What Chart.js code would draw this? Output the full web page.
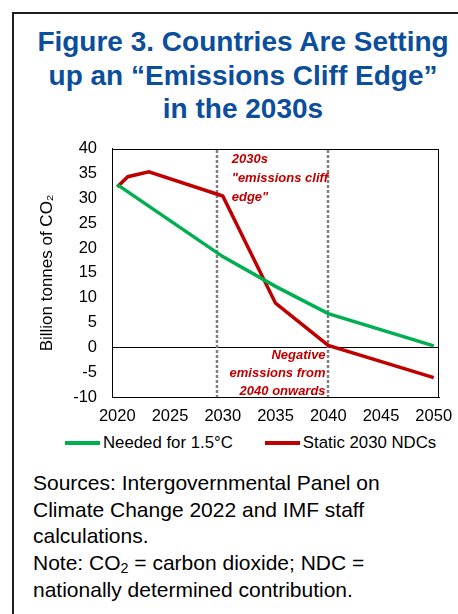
<!DOCTYPE html>
<html>
<head>
<meta charset="utf-8">
<script src="https://cdn.jsdelivr.net/npm/chart.js@4.4.1/dist/chart.umd.min.js"></script>
<style>
  html, body { margin: 0; padding: 0; background: #fff; }
  body { width: 458px; height: 614px; position: relative; overflow: hidden; font-family: "Liberation Sans", Arial, sans-serif; }
  #frame { position: absolute; left: 12px; top: 12px; width: 460px; height: 620px; border-top: 2px solid #1e1e1e; border-left: 2px solid #1e1e1e; }
  #title { position: absolute; left: 14px; top: 25px; width: 458px; text-align: center; color: #0b4e9c; font-weight: bold; font-size: 28px; line-height: 33.5px; }
  #chartBox { position: absolute; left: 14px; top: 124px; width: 444px; height: 306px; }
  #legend { position: absolute; left: 65px; top: 433px; width: 400px; display: flex; white-space: nowrap; font-size: 16.8px; line-height: 20px; color: #000; }
  #legend .item { display: flex; align-items: center; flex: none; margin-right: 32px; }
  #legend .swatch { width: 35px; height: 3.5px; margin-right: 3px; }
  #notes { position: absolute; left: 33px; top: 470px; width: 420px; font-size: 21px; line-height: 26.7px; color: #000; }
  #notes sub { font-size: 0.68em; line-height: 0; vertical-align: -0.2em; }
</style>
</head>
<body>
<div id="frame"></div>
<div id="title">Figure 3. Countries Are Setting<br>up an “Emissions Cliff Edge”<br>in the 2030s</div>
<div id="chartBox"><canvas id="emisCanvas"></canvas></div>
<div id="legend"></div>
<div id="notes">Sources: Intergovernmental Panel on<br>Climate Change 2022 and IMF staff<br>calculations.<br>Note: CO<sub>2</sub> = carbon dioxide; NDC =<br>nationally determined contribution.</div>

<script>
// datos (miles de millones de t de CO2)
const yearsNeeded = [2020, 2030, 2035, 2040, 2050];
const valsNeeded  = [32.8, 18.3, 12.3, 6.8, 0.3];

const yearsStatic = [2020, 2021, 2023, 2030, 2035, 2040, 2050];
const valsStatic  = [32.3, 34.4, 35.4, 30.5, 8.9, 0.4, -6.1];

const tickYears = [2020, 2025, 2030, 2035, 2040, 2045, 2050];
const markerYears = [2029.5, 2040];

const seriesNames = ['Needed for 1.5°C', 'Static 2030 NDCs'];
const seriesColors = ['#00b050', '#c00000'];

const noteCliff = ['2030s', '"emissions cliff', 'edge"'];
const noteNeg = ['Negative', 'emissions from', '2040 onwards'];

const FONT = '"Liberation Sans", Arial, sans-serif';

function toPoints(xs, ys) {
    return xs.map((x, i) => ({ x, y: ys[i] }));
}

// marco del área, líneas punteadas y textos rojos
const extrasPlugin = {
    id: 'extras',
    beforeDatasetsDraw(chart) {
        const { ctx, chartArea: a, scales: { x } } = chart;
        ctx.save();
        ctx.strokeStyle = '#7f7f7f';
        ctx.lineWidth = 2.5;
        ctx.setLineDash([3, 2]);
        markerYears.forEach(yr => {
            const px = Math.round(x.getPixelForValue(yr));
            ctx.beginPath();
            ctx.moveTo(px, a.top + 1);
            ctx.lineTo(px, a.bottom);
            ctx.stroke();
        });
        ctx.restore();
    },
    afterDatasetsDraw(chart) {
        const { ctx, chartArea: a, scales: { x, y } } = chart;
        ctx.save();
        ctx.strokeStyle = '#000';
        ctx.lineWidth = 1;
        ctx.strokeRect(Math.round(a.left) + 0.5, Math.round(a.top) + 0.5,
            Math.round(a.right - a.left) - 1, Math.round(a.bottom - a.top));

        ctx.fillStyle = seriesColors[1];
        ctx.font = 'italic bold 13px ' + FONT;
        ctx.textBaseline = 'middle';

        ctx.textAlign = 'left';
        let px = x.getPixelForValue(2030.85);
        let py = y.getPixelForValue(37.9);
        noteCliff.forEach((t, i) => ctx.fillText(t, px, py + i * 19));

        ctx.textAlign = 'right';
        px = x.getPixelForValue(2039.75);
        py = y.getPixelForValue(-1.6);
        noteNeg.forEach((t, i) => ctx.fillText(t, px, py + i * 18));
        ctx.restore();
    }
};

// leyenda en HTML (más control sobre el espaciado)
const legendEl = document.getElementById('legend');
seriesNames.forEach((name, i) => {
    const item = document.createElement('div');
    item.className = 'item';
    item.innerHTML = `<span class="swatch" style="background:${seriesColors[i]}"></span><span>${name}</span>`;
    legendEl.appendChild(item);
});

const canvas = document.getElementById('emisCanvas');

new Chart(canvas.getContext('2d'), {
    type: 'line',
    data: {
        datasets: [
            {
                label: seriesNames[0],
                data: toPoints(yearsNeeded, valsNeeded),
                borderColor: seriesColors[0],
                backgroundColor: seriesColors[0],
                borderWidth: 3.5,
                pointRadius: 0,
                tension: 0
            },
            {
                label: seriesNames[1],
                data: toPoints(yearsStatic, valsStatic),
                borderColor: seriesColors[1],
                backgroundColor: seriesColors[1],
                borderWidth: 3.5,
                pointRadius: 0,
                tension: 0
            }
        ]
    },
    options: {
        responsive: true,
        maintainAspectRatio: false,
        animation: false,
        layout: { padding: { top: 0, right: 19, left: 0, bottom: 3 } },
        scales: {
            x: {
                type: 'linear',
                min: 2019.5,
                max: 2050.5,
                afterBuildTicks(s) { s.ticks = tickYears.map(v => ({ value: v })); },
                afterFit(s) {
                    s.height = 30;
                    // que el padding del layout mande, no la etiqueta 2050
                    s.paddingLeft = 0;
                    s.paddingRight = 0;
                },
                grid: { display: false, drawTicks: false },
                border: { display: true, color: '#000', width: 1 },
                ticks: {
                    color: '#000',
                    padding: 10,
                    maxRotation: 0,
                    autoSkip: false,
                    font: { family: FONT, size: 16.5 },
                    callback: v => String(v)
                }
            },
            y: {
                min: -10,
                max: 40,
                afterFit(s) { s.width = 98; },
                ticks: {
                    stepSize: 5,
                    autoSkip: false,
                    color: '#000',
                    padding: 15,
                    font: { family: FONT, size: 16.5 }
                },
                grid: {
                    drawTicks: false,
                    color: c => (c.tick && c.tick.value === 0 ? '#000' : 'rgba(0,0,0,0)'),
                    lineWidth: 1
                },
                border: { display: true, color: '#000', width: 1 },
                title: {
                    display: true,
                    text: 'Billion tonnes of CO₂',
                    color: '#000',
                    padding: { top: 23, bottom: 0 },
                    font: { family: FONT, size: 17 }
                }
            }
        },
        plugins: {
            legend: { display: false },
            tooltip: { enabled: false }
        }
    },
    plugins: [extrasPlugin]
});
</script>
</body>
</html>
